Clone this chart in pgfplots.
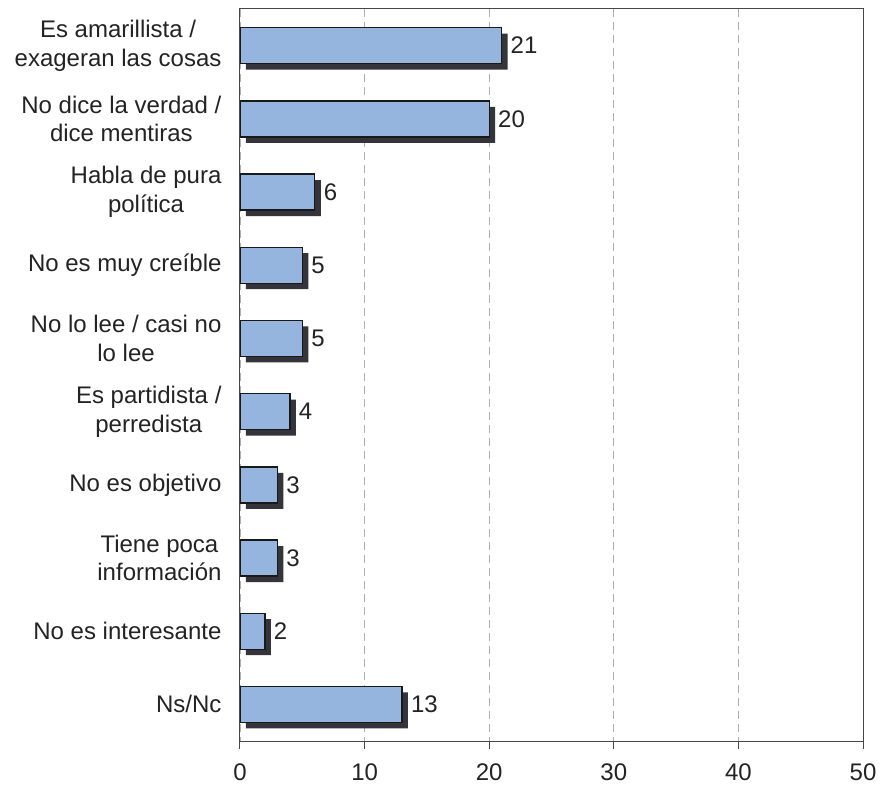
\documentclass[border=0pt]{standalone}
\usepackage{fontspec}
\setmainfont{Liberation Sans}
\usepackage{pgfplots}
\pgfplotsset{compat=1.18}
\definecolor{barfill}{RGB}{149,181,222}
\definecolor{barshadow}{RGB}{52,52,58}
\definecolor{axisgray}{RGB}{70,70,70}
\definecolor{gridgray}{RGB}{175,175,175}
\definecolor{txt}{RGB}{35,35,35}
\begin{document}
\begin{tikzpicture}
\begin{axis}[
  name=ax,
  scale only axis,
  width=623pt, height=732pt,
  xmin=0, xmax=50,
  ymin=-0.5, ymax=9.5,
  y dir=reverse,
  xtick={0,10,20,30,40,50},
  ytick={0,1,2,3,4,5,6,7,8,9},
  yticklabels={{Es amarillista /\\exageran las cosas},{No dice la verdad /\\dice mentiras},{Habla de pura\\política},{No es muy creíble},{No lo lee / casi no\\lo lee},{Es partidista /\\perredista},{No es objetivo},{Tiene poca\\información},{No es interesante},{Ns/Nc}},
  xtick pos=left,
  tick align=outside,
  major tick length=8pt,
  ytick style={draw=none},
  xtick style={axisgray, line width=1pt},
  axis line style={axisgray, line width=1pt},
  xmajorgrids,
  major grid style={gridgray, dash pattern=on 8pt off 5pt, line width=0.8pt},
  /pgf/number format/assume math mode=true,
  tick label style={font=\fontsize{24}{28.5}\selectfont, text=txt},
  yticklabel style={align=center, xshift=-7pt},
  xticklabel style={yshift=-11pt},
  xbar,
  bar width=36pt,
  nodes near coords,
  nodes near coords style={font=\fontsize{24}{28.5}\selectfont, text=txt, anchor=west, xshift=5pt},
]
\addplot[
  fill=barfill, draw=black!90, line width=1.4pt,
  preaction={fill=barshadow, draw=none, transform canvas={xshift=6pt, yshift=-6pt}},
] coordinates {
 (21,0) (20,1) (6,2) (5,3) (5,4) (4,5) (3,6) (3,7) (2,8) (13,9)
};
\end{axis}
\path ([shift={(-240pt,-47pt)}]ax.south west) rectangle ([shift={(18pt,9pt)}]ax.north east);
\end{tikzpicture}
\end{document}
